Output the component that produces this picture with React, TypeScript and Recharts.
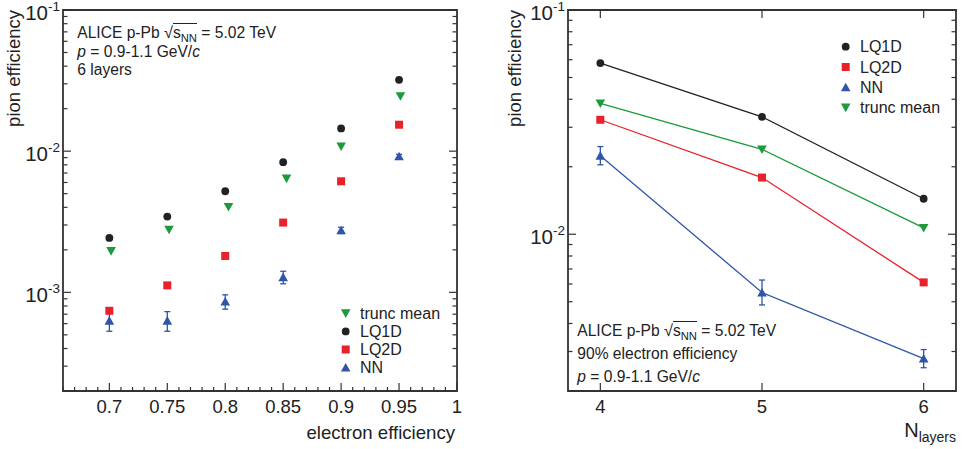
import React from "react";
import {
  ScatterChart,
  Scatter,
  LineChart,
  Line,
  XAxis,
  YAxis,
  ErrorBar,
  ReferenceArea,
  Legend,
} from "recharts";

const FONT = '"Liberation Sans", Arial, Helvetica, sans-serif';
const AXIS = "#333333";
const TEXT = "#222222";

type Kind = "lq1d" | "lq2d" | "nn" | "trunc";

const COLORS: Record<Kind, string> = {
  lq1d: "#222222",
  lq2d: "#e8222b",
  nn: "#2f55a8",
  trunc: "#1c9a3c",
};
const NAMES: Record<Kind, string> = {
  lq1d: "LQ1D",
  lq2d: "LQ2D",
  nn: "NN",
  trunc: "trunc mean",
};

// left panel: pion efficiency vs electron efficiency (6 layers)
const electronEff = [0.7, 0.75, 0.8, 0.85, 0.9, 0.95];
const truncEffX = [0.7015, 0.7515, 0.8028, 0.8529, 0.9, 0.9512];
const lq1dByEff = [0.00243, 0.00344, 0.0052, 0.00835, 0.0145, 0.032];
const truncByEff = [0.00196, 0.00278, 0.00403, 0.0064, 0.0108, 0.0245];
const lq2dByEff = [0.00074, 0.00112, 0.00181, 0.00312, 0.00612, 0.0154];
const nnByEff = [0.00063, 0.00063, 0.00086, 0.00128, 0.00275, 0.0092];
const nnErrByEff = [0.0001, 0.0001, 0.0001, 0.00013, 0.00014, 0.0003];

const effDomain = [0.66, 1.0];
const effTicks = [
  0.66, 0.67, 0.68, 0.69, 0.7, 0.71, 0.72, 0.73, 0.74, 0.75, 0.76, 0.77, 0.78,
  0.79, 0.8, 0.81, 0.82, 0.83, 0.84, 0.85, 0.86, 0.87, 0.88, 0.89, 0.9, 0.91,
  0.92, 0.93, 0.94, 0.95, 0.96, 0.97, 0.98, 0.99, 1.0,
];
const leftYDomain = [0.0002, 0.1];
const leftYTicks = [
  0.0002, 0.0003, 0.0004, 0.0005, 0.0006, 0.0007, 0.0008, 0.0009, 0.001, 0.002,
  0.003, 0.004, 0.005, 0.006, 0.007, 0.008, 0.009, 0.01, 0.02, 0.03, 0.04,
  0.05, 0.06, 0.07, 0.08, 0.09, 0.1,
];
const leftLegendOrder: Kind[] = ["trunc", "lq1d", "lq2d", "nn"];

// right panel: pion efficiency at 90% electron efficiency vs number of layers
const nLayers = [4, 5, 6];
const lq1dByLayers = [0.058, 0.0334, 0.0144];
const lq2dByLayers = [0.0324, 0.0179, 0.0061];
const nnByLayers = [0.0224, 0.0055, 0.00279];
const nnErrByLayers = [
  [0.002, 0.0022],
  [0.00066, 0.00075],
  [0.00025, 0.00027],
];
const truncByLayers = [0.0383, 0.0239, 0.01067];

const layerDomain = [3.8, 6.2];
const layerTicks = [4, 5, 6];
const rightYDomain = [0.002, 0.1];
const rightYTicks = [
  0.002, 0.003, 0.004, 0.005, 0.006, 0.007, 0.008, 0.009, 0.01, 0.02, 0.03,
  0.04, 0.05, 0.06, 0.07, 0.08, 0.09, 0.1,
];
const rightLegendOrder: Kind[] = ["lq1d", "lq2d", "nn", "trunc"];

const leftSeries = {
  trunc: electronEff.map((_, i) => ({ x: truncEffX[i], y: truncByEff[i] })),
  lq1d: electronEff.map((x, i) => ({ x, y: lq1dByEff[i] })),
  lq2d: electronEff.map((x, i) => ({ x, y: lq2dByEff[i] })),
  nn: electronEff.map((x, i) => ({ x, y: nnByEff[i], err: nnErrByEff[i] })),
};

const layerRows = nLayers.map((n, i) => ({
  n,
  lq1d: lq1dByLayers[i],
  lq2d: lq2dByLayers[i],
  nn: nnByLayers[i],
  nnErr: nnErrByLayers[i],
  trunc: truncByLayers[i],
}));

const H = 449;
const PLOT_TOP = 10;
const X_AXIS_H = 58;
const PLOT_H = H - PLOT_TOP - X_AXIS_H;

function Marker({ kind, cx, cy }: { kind: Kind; cx: number; cy: number }) {
  const c = COLORS[kind];
  if (cx == null || cy == null) return null;
  if (kind === "lq1d") return <circle cx={cx} cy={cy} r={3.9} fill={c} />;
  if (kind === "lq2d")
    return <rect x={cx - 4} y={cy - 4} width={8} height={8} fill={c} />;
  if (kind === "nn")
    return (
      <polygon
        points={`${cx - 4.8},${cy + 4} ${cx + 4.8},${cy + 4} ${cx},${cy - 4.6}`}
        fill={c}
      />
    );
  return (
    <polygon
      points={`${cx - 4.8},${cy - 4} ${cx + 4.8},${cy - 4} ${cx},${cy + 4.6}`}
      fill={c}
    />
  );
}

const isDecade = (v: number) =>
  Math.abs(Math.log10(v) - Math.round(Math.log10(v))) < 1e-9;

function makeYTick(plotW: number) {
  return (props: any) => {
    const { x, y, payload } = props;
    const v = payload.value;
    const major = isDecade(v);
    const len = major ? 8 : 4.5;
    return (
      <g>
        <line x1={x} x2={x + len} y1={y} y2={y} stroke={AXIS} strokeWidth={1.2} />
        <line
          x1={x + plotW}
          x2={x + plotW - len}
          y1={y}
          y2={y}
          stroke={AXIS}
          strokeWidth={1.2}
        />
        {major && (
          <text
            x={x - 3}
            y={y + 9.5}
            textAnchor="end"
            fontSize={20.5}
            fontFamily={FONT}
            fill={TEXT}
          >
            10
            <tspan dy={-8.5} fontSize={13.5}>
              {String(Math.round(Math.log10(v)))}
            </tspan>
          </text>
        )}
      </g>
    );
  };
}

function makeXTick(isMajor: (v: number) => boolean, mirrorTop: boolean) {
  return (props: any) => {
    const { x, y, payload } = props;
    const v = payload.value;
    const major = isMajor(v);
    const len = major ? 8 : 4;
    return (
      <g>
        <line x1={x} x2={x} y1={y} y2={y - len} stroke={AXIS} strokeWidth={1.2} />
        {mirrorTop && (
          <line
            x1={x}
            x2={x}
            y1={y - PLOT_H}
            y2={y - PLOT_H + len}
            stroke={AXIS}
            strokeWidth={1.2}
          />
        )}
        {major && (
          <text
            x={x}
            y={y + 21.5}
            textAnchor="middle"
            fontSize={18.5}
            fontFamily={FONT}
            fill={TEXT}
          >
            {String(Math.round(v * 100) / 100)}
          </text>
        )}
      </g>
    );
  };
}

function makeLegend(
  order: Kind[],
  w: number,
  markerX: number,
  textX: number,
  firstY: number,
  step: number
) {
  return () => (
    <svg width={w} height={H} style={{ display: "block" }}>
      {order.map((k, i) => (
        <g key={k}>
          <Marker kind={k} cx={markerX} cy={firstY + i * step} />
          <text
            x={textX}
            y={firstY + i * step + 5.5}
            fontSize={16}
            fontFamily={FONT}
            fill={TEXT}
          >
            {NAMES[k]}
          </text>
        </g>
      ))}
    </svg>
  );
}

function SqrtS() {
  return (
    <>
      <span style={{ fontSize: "1.05em" }}>√</span>
      <span style={{ borderTop: `1px solid ${TEXT}` }}>
        s
        <sub style={{ fontSize: "0.72em", verticalAlign: "-0.35em", lineHeight: 0 }}>
          NN
        </sub>
      </span>
    </>
  );
}

function LeftPanel() {
  const W = 475;
  const yW = 63;
  const right = 18;
  const plotW = W - yW - right;
  const major = (v: number) => Math.abs(v * 20 - Math.round(v * 20)) < 1e-6;
  return (
    <div style={{ position: "absolute", left: 0, top: 0, width: W, height: H }}>
      <ScatterChart
        width={W}
        height={H}
        margin={{ top: PLOT_TOP, right, bottom: 0, left: 0 }}
      >
        <XAxis
          type="number"
          dataKey="x"
          domain={effDomain}
          ticks={effTicks}
          interval={0}
          allowDataOverflow
          axisLine={false}
          tickLine={false}
          tickSize={0}
          tickMargin={0}
          height={X_AXIS_H}
          tick={makeXTick(major, false)}
        />
        <YAxis
          type="number"
          dataKey="y"
          scale="log"
          domain={leftYDomain}
          ticks={leftYTicks}
          interval={0}
          allowDataOverflow
          axisLine={false}
          tickLine={false}
          tickSize={0}
          tickMargin={0}
          width={yW}
          tick={makeYTick(plotW)}
        />
        <ReferenceArea
          x1={effDomain[0]}
          x2={effDomain[1]}
          y1={leftYDomain[0]}
          y2={leftYDomain[1]}
          fill="none"
          stroke={AXIS}
          strokeWidth={1.8}
          ifOverflow="visible"
        />
        {(["trunc", "lq1d", "lq2d", "nn"] as Kind[]).map((k) => (
          <Scatter
            key={k}
            name={NAMES[k]}
            data={leftSeries[k]}
            isAnimationActive={false}
            shape={(p: any) => <Marker kind={k} cx={p.cx} cy={p.cy} />}
          >
            {k === "nn" && (
              <ErrorBar
                dataKey="err"
                direction="y"
                width={3}
                stroke={COLORS.nn}
                strokeWidth={1.3}
              />
            )}
          </Scatter>
        ))}
        <Legend
          layout="horizontal"
          align="center"
          verticalAlign="middle"
          wrapperStyle={{ left: 0, top: 0, width: W, height: H }}
          content={makeLegend(leftLegendOrder, W, 345.7, 360, 313.3, 18.1)}
        />
      </ScatterChart>
      <svg
        width={W}
        height={H}
        style={{ position: "absolute", left: 0, top: 0, pointerEvents: "none" }}
      >
        <text
          transform={`translate(20, ${PLOT_TOP}) rotate(-90)`}
          textAnchor="end"
          fontSize={18.5}
          fontFamily={FONT}
          fill={TEXT}
        >
          pion efficiency
        </text>
        <text
          x={455}
          y={439}
          textAnchor="end"
          fontSize={18.6}
          fontFamily={FONT}
          fill={TEXT}
        >
          electron efficiency
        </text>
      </svg>
      <div
        style={{
          position: "absolute",
          left: 77.3,
          top: 23,
          fontFamily: FONT,
          fontSize: 15.6,
          lineHeight: "18.7px",
          color: TEXT,
          whiteSpace: "nowrap",
        }}
      >
        <div>
          ALICE p-Pb <SqrtS /> = 5.02 TeV
        </div>
        <div>
          <i>p</i> = 0.9-1.1 GeV/<i>c</i>
        </div>
        <div>6 layers</div>
      </div>
    </div>
  );
}

function RightPanel() {
  const X0 = 490;
  const W = 473;
  const yW = 78;
  const right = 7;
  const plotW = W - yW - right;
  const series: Kind[] = ["lq1d", "lq2d", "nn", "trunc"];
  return (
    <div style={{ position: "absolute", left: X0, top: 0, width: W, height: H }}>
      <LineChart
        width={W}
        height={H}
        data={layerRows}
        margin={{ top: PLOT_TOP, right, bottom: 0, left: 0 }}
      >
        <XAxis
          type="number"
          dataKey="n"
          domain={layerDomain}
          ticks={layerTicks}
          interval={0}
          allowDataOverflow
          axisLine={false}
          tickLine={false}
          tickSize={0}
          tickMargin={0}
          height={X_AXIS_H}
          tick={makeXTick(() => true, true)}
        />
        <YAxis
          type="number"
          scale="log"
          domain={rightYDomain}
          ticks={rightYTicks}
          interval={0}
          allowDataOverflow
          axisLine={false}
          tickLine={false}
          tickSize={0}
          tickMargin={0}
          width={yW}
          tick={makeYTick(plotW)}
        />
        <ReferenceArea
          x1={layerDomain[0]}
          x2={layerDomain[1]}
          y1={rightYDomain[0]}
          y2={rightYDomain[1]}
          fill="none"
          stroke={AXIS}
          strokeWidth={1.8}
          ifOverflow="visible"
        />
        {series.map((k) => (
          <Line
            key={k}
            type="linear"
            dataKey={k}
            name={NAMES[k]}
            stroke={COLORS[k]}
            strokeWidth={1.3}
            isAnimationActive={false}
            dot={(p: any) => (
              <Marker key={`${k}-${p.index}`} kind={k} cx={p.cx} cy={p.cy} />
            )}
            activeDot={false}
          >
            {k === "nn" && (
              <ErrorBar
                dataKey="nnErr"
                direction="y"
                width={3}
                stroke={COLORS.nn}
                strokeWidth={1.3}
              />
            )}
          </Line>
        ))}
        <Legend
          layout="horizontal"
          align="center"
          verticalAlign="middle"
          wrapperStyle={{ left: 0, top: 0, width: W, height: H }}
          content={makeLegend(rightLegendOrder, W, 355.7, 370, 46.7, 20.3)}
        />
      </LineChart>
      <svg
        width={W}
        height={H}
        style={{ position: "absolute", left: 0, top: 0, pointerEvents: "none" }}
      >
        <text
          transform={`translate(31, ${PLOT_TOP}) rotate(-90)`}
          textAnchor="end"
          fontSize={18.5}
          fontFamily={FONT}
          fill={TEXT}
        >
          pion efficiency
        </text>
        <text x={466} y={436.7} textAnchor="end" fontFamily={FONT} fill={TEXT}>
          <tspan fontSize={20}>N</tspan>
          <tspan fontSize={14} dy={5}>
            layers
          </tspan>
        </text>
      </svg>
      <div
        style={{
          position: "absolute",
          left: 87.3,
          top: 319.2,
          fontFamily: FONT,
          fontSize: 15.6,
          lineHeight: "22.85px",
          color: TEXT,
          whiteSpace: "nowrap",
        }}
      >
        <div>
          ALICE p-Pb <SqrtS /> = 5.02 TeV
        </div>
        <div>90% electron efficiency</div>
        <div>
          <i>p</i> = 0.9-1.1 GeV/<i>c</i>
        </div>
      </div>
    </div>
  );
}

export default function App() {
  return (
    <div
      style={{
        position: "absolute",
        left: 0,
        top: 0,
        width: 963,
        height: H,
        background: "#ffffff",
        overflow: "hidden",
      }}
    >
      <LeftPanel />
      <RightPanel />
    </div>
  );
}
